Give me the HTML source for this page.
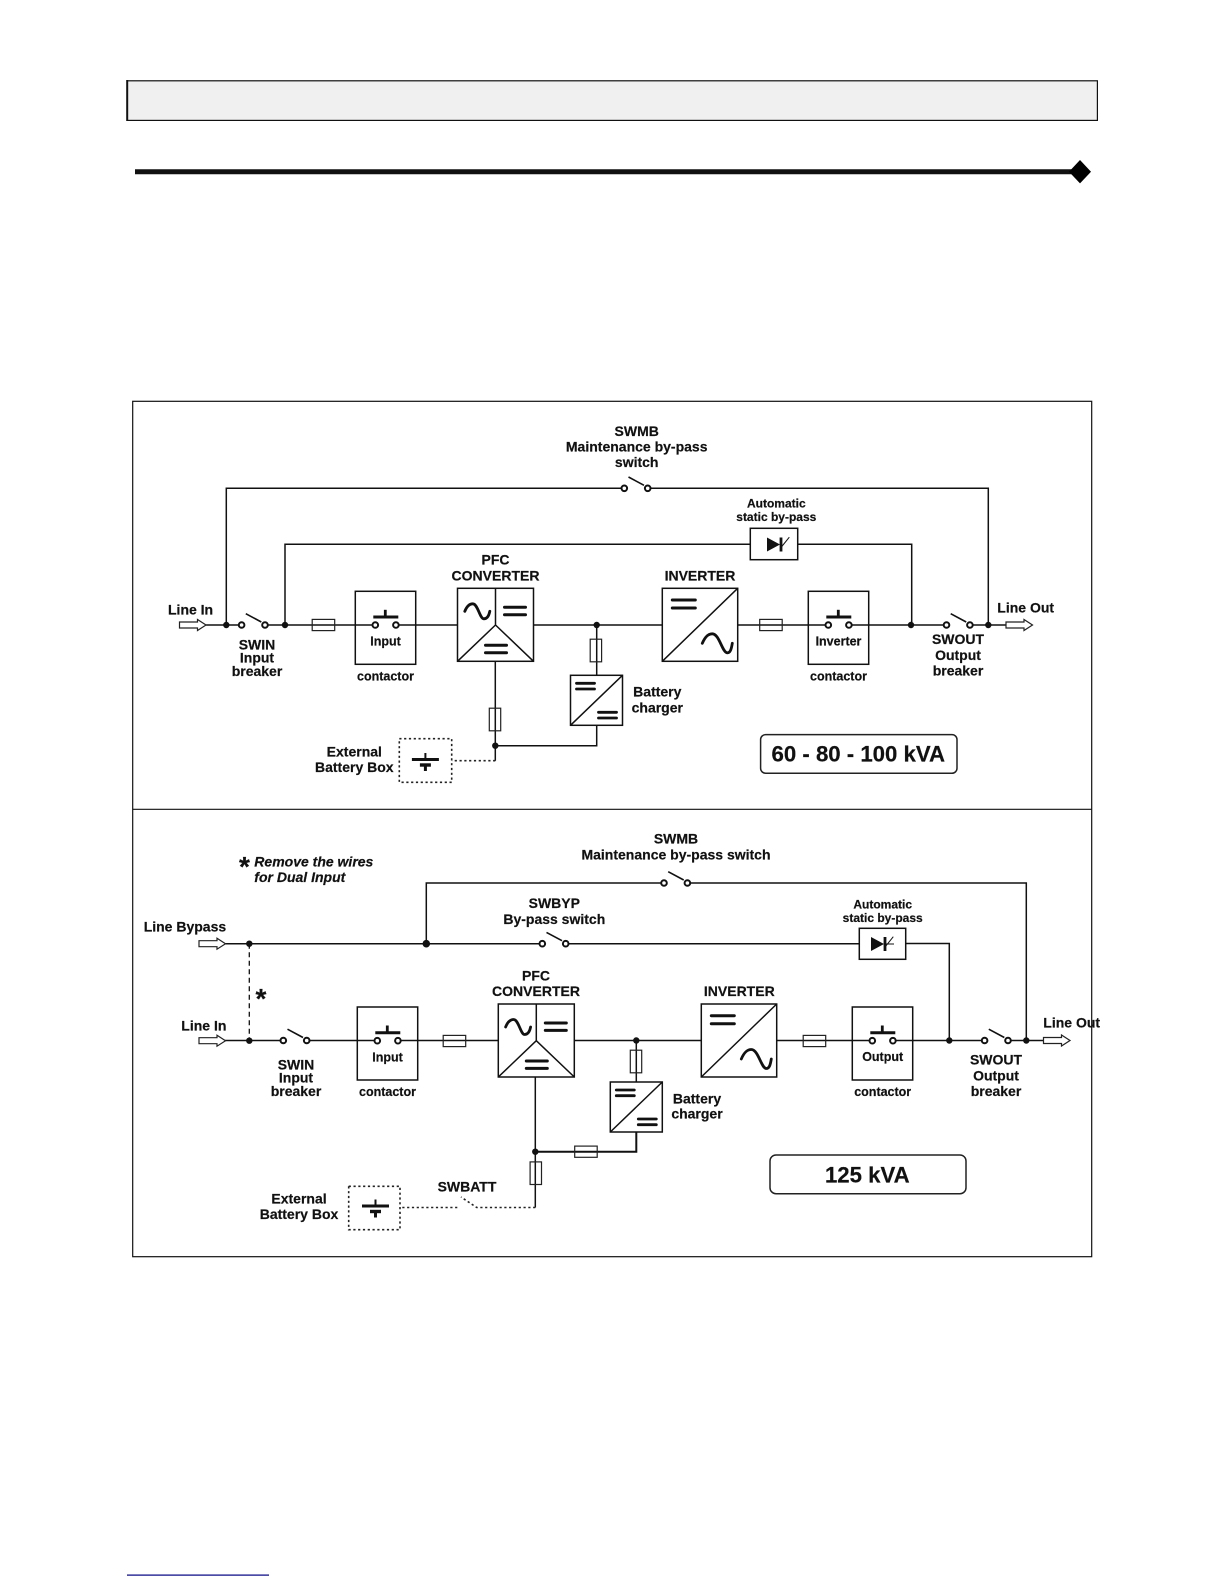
<!DOCTYPE html>
<html lang="en">
<head>
<meta charset="utf-8">
<title>UPS block diagrams</title>
<style>
html,body{margin:0;padding:0;background:#fff}
svg{display:block}
text{font-family:"Liberation Sans",Arial,sans-serif;font-weight:bold;font-size:14px;fill:#111;stroke:#111;stroke-width:.2;text-anchor:middle}
.s{font-size:12.5px}
.a{font-size:12px}
.st{text-anchor:start}
.it{font-style:italic;text-anchor:start}
.k{font-size:22.2px}
.l{fill:none;stroke:#111;stroke-width:1.5}
.box{fill:#fff;stroke:#111;stroke-width:1.5}
.th{fill:none;stroke:#111;stroke-width:2.8}
.dot{fill:none;stroke:#222;stroke-width:1.6;stroke-dasharray:2.2 2.6}
</style>
</head>
<body>
<svg width="1224" height="1584" viewBox="0 0 1224 1584" xmlns="http://www.w3.org/2000/svg">
<defs>
<g id="sw"><line x1="-9" y1="0" x2="9" y2="0" stroke="#fff" stroke-width="4"/><line x1="-7.5" y1="-11.3" x2="8" y2="-3" stroke="#111" stroke-width="1.6"/><circle cx="-11.7" cy="0" r="2.8" fill="#fff" stroke="#111" stroke-width="2"/><circle cx="11.7" cy="0" r="2.8" fill="#fff" stroke="#111" stroke-width="2"/></g>
<g id="arrow"><path d="M0,-3 H18 V-5.5 L26.5,0 L18,5.5 V3 H0 Z" fill="#fff" stroke="#222" stroke-width="1.2"/></g>
<g id="cont"><rect x="0" y="0" width="60.4" height="73" fill="none" stroke="#111" stroke-width="1.5"/><line x1="23" y1="33.7" x2="38" y2="33.7" stroke="#fff" stroke-width="4"/><line x1="18" y1="25.7" x2="43" y2="25.7" stroke="#111" stroke-width="3"/><line x1="30" y1="18.5" x2="30" y2="25.7" stroke="#111" stroke-width="2.8"/><circle cx="20" cy="33.7" r="2.8" fill="#fff" stroke="#111" stroke-width="2"/><circle cx="40.6" cy="33.7" r="2.8" fill="#fff" stroke="#111" stroke-width="2"/></g>
<path id="sine" d="M0,0 C2,-5 5,-7.5 8,-7.5 C13,-7.5 15,7.5 19,7.5 C22,7.5 24,5 25,0" class="th" stroke-linecap="round"/>
<g id="eq"><line x1="0" y1="0" x2="21" y2="0" stroke="#111" stroke-width="3" stroke-linecap="round"/><line x1="0" y1="7.4" x2="21" y2="7.4" stroke="#111" stroke-width="3" stroke-linecap="round"/></g>
<g id="eqs"><line x1="0" y1="0" x2="18" y2="0" stroke="#111" stroke-width="2.8" stroke-linecap="round"/><line x1="0" y1="5.7" x2="18" y2="5.7" stroke="#111" stroke-width="2.8" stroke-linecap="round"/></g>
<g id="pfc"><rect class="box" x="0" y="0" width="76" height="73"/><path class="l" d="M38,0 V36.7 M0,73 L38,36.7 L76,73"/><use href="#sine" x="7.3" y="23"/><use href="#eq" x="47" y="19"/><use href="#eq" x="28" y="57"/></g>
<g id="inv"><rect class="box" x="0" y="0" width="75.4" height="73"/><line class="l" x1="0" y1="73" x2="75.4" y2="0"/><line x1="10" y1="11.7" x2="33" y2="11.7" stroke="#111" stroke-width="3" stroke-linecap="round"/><line x1="10" y1="19.7" x2="33" y2="19.7" stroke="#111" stroke-width="3" stroke-linecap="round"/><path d="M40,55 C43,48 46,45.5 50,45.5 C57,45.5 60,64.5 65,64.5 C68,64.5 69,61 70,55" class="th" stroke-linecap="round"/></g>
<g id="chg"><rect class="box" x="0" y="0" width="52" height="50"/><line class="l" x1="0" y1="50" x2="52" y2="0"/><use href="#eqs" x="6" y="8"/><use href="#eqs" x="28" y="37"/></g>
<g id="batt"><line x1="-13.5" y1="0" x2="13.5" y2="0" stroke="#111" stroke-width="3"/><line x1="0" y1="-6.5" x2="0" y2="0" stroke="#111" stroke-width="2"/><line x1="-5.5" y1="5.5" x2="5.5" y2="5.5" stroke="#111" stroke-width="3.4"/><line x1="0" y1="5.5" x2="0" y2="11.5" stroke="#111" stroke-width="3"/></g>
<g id="diode"><path d="M0,-7 V7 L13,0 Z" fill="#111"/><line x1="14" y1="-7" x2="14" y2="7" stroke="#111" stroke-width="2.8"/><line x1="14" y1="3" x2="22.3" y2="-7.3" stroke="#111" stroke-width="1"/></g>
<rect id="fh" x="-11.3" y="-5.6" width="22.5" height="11.2" fill="none" stroke="#222" stroke-width="1.2"/>
<rect id="fv" x="-5.7" y="-11.3" width="11.4" height="22.6" fill="none" stroke="#222" stroke-width="1.2"/>
</defs>

<!-- header -->
<rect x="127.4" y="80.8" width="970" height="39.6" fill="#f0f0f0" stroke="#111" stroke-width="1.2"/>
<line x1="127.2" y1="80" x2="127.2" y2="121" stroke="#111" stroke-width="2"/>
<line x1="135" y1="171.7" x2="1075" y2="171.7" stroke="#111" stroke-width="5"/>
<path d="M1080,160 L1091,171.7 L1080,183.4 L1069,171.7 Z" fill="#000"/>

<!-- frame -->
<rect x="132.7" y="401.3" width="959" height="855.4" fill="none" stroke="#111" stroke-width="1.2"/>
<line x1="132.7" y1="809.3" x2="1091.7" y2="809.3" stroke="#111" stroke-width="1.2"/>

<!-- TOP DIAGRAM -->
<path class="l" d="M206,625 H1006"/>
<path class="l" d="M226.3,625 V488.3 H988.3 V625"/>
<path class="l" d="M285,625 V544.3 H911.7 V625"/>
<path class="l" d="M495.3,661.7 V760.7 M495.3,745.7 H596.7 V725"/>
<path class="l" d="M596.7,625 V675"/>
<path class="dot" d="M495.3,760.7 H452"/>
<rect x="399.3" y="738.7" width="52.4" height="43.6" class="dot"/>
<use href="#batt" x="425.4" y="759.5"/>
<use href="#arrow" x="179.5" y="625"/>
<use href="#arrow" x="1006" y="625"/>
<use href="#sw" x="253.3" y="625"/><use href="#sw" x="636" y="488.3"/><use href="#sw" x="958.2" y="625"/>
<use href="#fh" x="323.5" y="625"/><use href="#fh" x="771" y="625"/>
<use href="#fv" x="595.9" y="650.5"/><use href="#fv" x="495" y="719.5"/>
<use href="#cont" x="355.3" y="591.3"/><use href="#cont" x="808.3" y="591.3"/>
<use href="#pfc" x="457.5" y="588.3"/>
<use href="#inv" x="662.3" y="588.3"/>
<use href="#chg" x="570.5" y="675.3"/>
<rect class="box" x="750.3" y="528.3" width="47.4" height="31.4"/>
<use href="#diode" x="767" y="544.5"/>
<g fill="#111">
<circle cx="226.3" cy="625" r="3.2"/><circle cx="285" cy="625" r="3.2"/><circle cx="596.7" cy="625" r="3.2"/><circle cx="495.3" cy="745.7" r="3.2"/><circle cx="911" cy="625" r="3.2"/><circle cx="988.3" cy="625" r="3.2"/>
</g>
<rect x="760.6" y="734.6" width="196.4" height="38.7" rx="5" fill="#fff" stroke="#222" stroke-width="1.5"/>

<text x="636.7" y="436">SWMB</text>
<text x="636.7" y="451.7">Maintenance by-pass</text>
<text x="636.7" y="467">switch</text>
<text class="a" x="776.3" y="507.3">Automatic</text>
<text class="a" x="776.3" y="521">static by-pass</text>
<text x="495.5" y="564.3">PFC</text>
<text x="495.5" y="580.3">CONVERTER</text>
<text x="700" y="580.5">INVERTER</text>
<text class="st" x="168" y="614.7">Line In</text>
<text class="st" x="997.3" y="612.7">Line Out</text>
<text x="257" y="649.3">SWIN</text>
<text x="257" y="662.7">Input</text>
<text x="257" y="676">breaker</text>
<text class="s" x="385.5" y="645.7">Input</text>
<text class="s" x="385.5" y="680.7">contactor</text>
<text class="s" x="838.5" y="645.7">Inverter</text>
<text class="s" x="838.5" y="680.7">contactor</text>
<text x="958" y="644">SWOUT</text>
<text x="958" y="660">Output</text>
<text x="958" y="675.7">breaker</text>
<text x="657.3" y="696.7">Battery</text>
<text x="657.3" y="712.3">charger</text>
<text x="354.3" y="756.7">External</text>
<text x="354.3" y="772">Battery Box</text>
<text class="k" x="858.3" y="761.7">60 - 80 - 100 kVA</text>

<!-- BOTTOM DIAGRAM -->
<path class="l" d="M225,943.7 H859"/>
<path class="l" d="M426.3,943.7 V883 H1026.3 V1040.5"/>
<path class="l" d="M906,943.5 H949.3 V1040.5"/>
<path class="l" d="M225,1040.5 H1043.5"/>
<path d="M249.3,943.7 V1040.5" fill="none" stroke="#111" stroke-width="1.3" stroke-dasharray="5 3.5"/>
<path class="l" d="M535.3,1076.7 V1207.5"/>
<path d="M535.3,1151.7 H636.3 V1131" fill="none" stroke="#111" stroke-width="2"/>
<path class="l" d="M636.3,1040.5 V1082"/>
<path class="dot" d="M535.3,1207.5 H476.7 L461,1197"/>
<path class="dot" d="M457.3,1207.5 H400"/>
<rect x="348.7" y="1186.3" width="51.3" height="43.4" class="dot"/>
<use href="#batt" x="375.5" y="1206"/>
<use href="#arrow" x="199" y="943.7"/>
<use href="#arrow" x="199" y="1040.7"/>
<use href="#arrow" x="1043.5" y="1040.5"/>
<use href="#sw" x="295" y="1040.5"/><use href="#sw" x="554" y="943.7"/><use href="#sw" x="675.7" y="883"/><use href="#sw" x="996.3" y="1040.5"/>
<use href="#fh" x="454.5" y="1041"/><use href="#fh" x="814.5" y="1041"/><use href="#fh" x="586" y="1151.7"/>
<use href="#fv" x="636" y="1061.5"/><use href="#fv" x="535.8" y="1173.2"/>
<use href="#cont" x="357.3" y="1007"/><use href="#cont" x="852.3" y="1007"/>
<use href="#pfc" x="498.3" y="1004"/>
<use href="#inv" x="701.3" y="1004"/>
<use href="#chg" x="610.3" y="1082"/>
<rect class="box" x="859.3" y="928.3" width="46.4" height="31"/>
<use href="#diode" x="871" y="944"/>
<line class="l" x1="885" y1="944" x2="894" y2="944" style="stroke-width:1"/>
<g fill="#111">
<circle cx="249.3" cy="943.7" r="3.2"/><circle cx="426.3" cy="943.7" r="3.8"/><circle cx="249.3" cy="1040.7" r="3.2"/><circle cx="636.3" cy="1040.5" r="3.2"/><circle cx="535.3" cy="1151.7" r="3.2"/><circle cx="949.3" cy="1040.5" r="3.2"/><circle cx="1026.3" cy="1040.5" r="3.2"/>
</g>
<rect x="770" y="1155" width="196" height="38.7" rx="6" fill="#fff" stroke="#222" stroke-width="1.5"/>

<text x="676" y="843.7">SWMB</text>
<text x="676" y="859.7">Maintenance by-pass switch</text>
<text style="font-size:28px" x="244.5" y="876">*</text>
<text class="it" x="254.3" y="866.3">Remove the wires</text>
<text class="it" x="254.3" y="882">for Dual Input</text>
<text x="554.3" y="908">SWBYP</text>
<text x="554.3" y="924">By-pass switch</text>
<text class="a" x="882.7" y="908.3">Automatic</text>
<text class="a" x="882.7" y="922">static by-pass</text>
<text class="st" x="143.7" y="931.3">Line Bypass</text>
<text style="font-size:28px" x="261" y="1008">*</text>
<text x="536" y="980.3">PFC</text>
<text x="536" y="996">CONVERTER</text>
<text x="739.3" y="996">INVERTER</text>
<text class="st" x="181.3" y="1030.3">Line In</text>
<text class="st" x="1043.3" y="1027.7">Line Out</text>
<text x="296" y="1069.3">SWIN</text>
<text x="296" y="1082.7">Input</text>
<text x="296" y="1096">breaker</text>
<text class="s" x="387.5" y="1061.3">Input</text>
<text class="s" x="387.5" y="1096">contactor</text>
<text class="s" x="882.7" y="1061">Output</text>
<text class="s" x="882.7" y="1096">contactor</text>
<text x="996" y="1064.3">SWOUT</text>
<text x="996" y="1080.3">Output</text>
<text x="996" y="1096">breaker</text>
<text x="697" y="1103.3">Battery</text>
<text x="697" y="1118.7">charger</text>
<text x="467" y="1191.7">SWBATT</text>
<text x="299" y="1203.7">External</text>
<text x="299" y="1219">Battery Box</text>
<text class="k" x="867.3" y="1182.3">125 kVA</text>

<!-- footer rule -->
<rect x="127" y="1574.5" width="142" height="1.2" fill="#000080"/>
</svg>
</body>
</html>
